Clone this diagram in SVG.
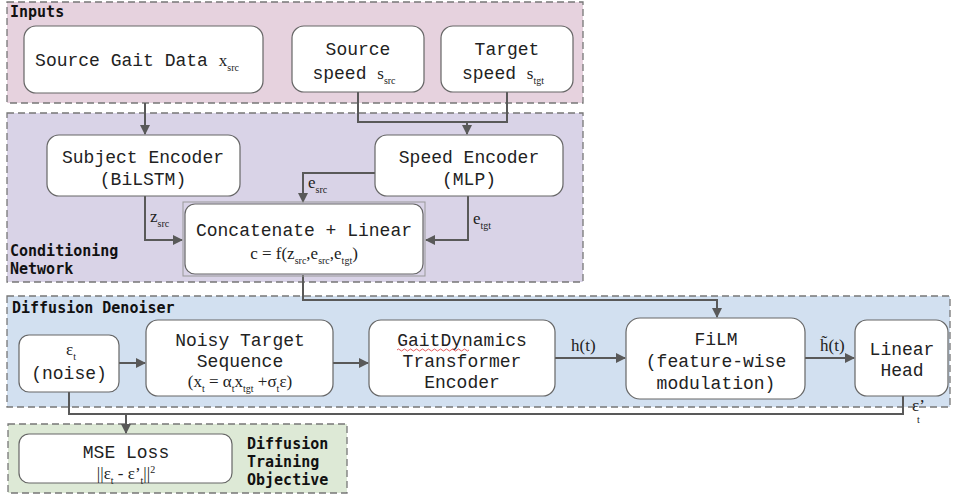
<svg xmlns="http://www.w3.org/2000/svg" width="953" height="497" viewBox="0 0 953 497">
<defs>
<marker id="ah" viewBox="0 0 10 10" refX="9" refY="5" markerWidth="5" markerHeight="5" orient="auto" markerUnits="strokeWidth"><path d="M0,0 L10,5 L0,10 z" fill="#595959"/></marker>
<style>
.panel{stroke:#777;stroke-width:1.3;stroke-dasharray:7 4}
.node{fill:#fff;stroke:#666;stroke-width:1.2}
.t{font-family:"Liberation Mono","DejaVu Sans Mono",monospace;font-size:18px;fill:#222;text-anchor:middle}
.lbl{font-family:"DejaVu Sans Mono","Liberation Mono",monospace;font-size:15px;font-weight:bold;fill:#111}
.m{font-family:"Liberation Serif","Times New Roman",serif;font-size:17px;fill:#222}
.s{font-size:10px}
.c{fill:none;stroke:#595959;stroke-width:2}
</style>
</defs>
<g id="panel-inputs"><rect class="panel" x="7" y="2" width="576" height="101" fill="#e6d2de"/><text class="lbl" x="10" y="17">Inputs</text></g>
<g id="panel-conditioning"><rect class="panel" x="7" y="113" width="576" height="169" fill="#d9d3e7"/><text class="lbl" x="10" y="256">Conditioning</text><text class="lbl" x="10" y="274">Network</text></g>
<g id="panel-denoiser"><rect class="panel" x="7" y="296" width="943" height="111" fill="#d2e0f0"/><text class="lbl" x="12" y="313">Diffusion Denoiser</text></g>
<g id="panel-objective"><rect class="panel" x="8" y="424" width="339" height="69" fill="#dde9d6"/><text class="lbl" x="247" y="449">Diffusion</text><text class="lbl" x="247" y="467">Training</text><text class="lbl" x="247" y="485">Objective</text></g>

<g id="connectors">
<path class="c" d="M145,103 V134" marker-end="url(#ah)"/>
<path class="c" d="M358,92 V122 H507 V92"/>
<path class="c" d="M467,122 V134" marker-end="url(#ah)"/>
<path class="c" d="M145,196 V240 H182" marker-end="url(#ah)"/>
<path class="c" d="M375,173 H303 V202" marker-end="url(#ah)"/>
<path class="c" d="M468,196 V240 H426" marker-end="url(#ah)"/>
<path class="c" d="M303,275 V300 H717 V317" marker-end="url(#ah)"/>
<path class="c" d="M119,363 H145" marker-end="url(#ah)"/>
<path class="c" d="M333,363 H368" marker-end="url(#ah)"/>
<path class="c" d="M555,358 H625" marker-end="url(#ah)"/>
<path class="c" d="M805,358 H854" marker-end="url(#ah)"/>
<path class="c" d="M69,392 V414 H903 V396"/>
<path class="c" d="M126,414 V433" marker-end="url(#ah)"/>
<text class="m" x="150" y="222">z<tspan class="s" dy="5">src</tspan></text>
<text class="m" x="308" y="188">e<tspan class="s" dy="5">src</tspan></text>
<text class="m" x="473" y="224">e<tspan class="s" dy="5">tgt</tspan></text>
<text class="m" x="571" y="351">h(t)</text>
<text class="m" x="820" y="351">h̃(t)</text>
<text class="m" x="912" y="411">ε’</text>
<text class="m s" x="917" y="423">t</text>
</g>

<g id="node-source-gait"><rect class="node" x="24" y="26" width="239" height="67" rx="12"/><text class="t" x="137" y="66">Source Gait Data <tspan class="m">x</tspan><tspan class="m s" dy="5">src</tspan></text></g>
<g id="node-source-speed"><rect class="node" x="292" y="26" width="132" height="66" rx="12"/><text class="t" x="358" y="55">Source</text><text class="t" x="354" y="79">speed <tspan class="m">s</tspan><tspan class="m s" dy="5">src</tspan></text></g>
<g id="node-target-speed"><rect class="node" x="441" y="26" width="132" height="66" rx="12"/><text class="t" x="507" y="55">Target</text><text class="t" x="503" y="79">speed <tspan class="m">s</tspan><tspan class="m s" dy="5">tgt</tspan></text></g>

<g id="node-subject-encoder"><rect class="node" x="47" y="135" width="193" height="61" rx="12"/><text class="t" x="143" y="163">Subject Encoder</text><text class="t" x="143" y="185">(BiLSTM)</text></g>
<g id="node-speed-encoder"><rect class="node" x="375" y="135" width="188" height="61" rx="12"/><text class="t" x="469" y="163">Speed Encoder</text><text class="t" x="469" y="185">(MLP)</text></g>
<g id="node-concat"><rect x="183" y="202" width="242" height="74" fill="none" stroke="#999" stroke-width="1"/><rect class="node" x="185" y="204" width="238" height="70" rx="10"/><text class="t" x="304" y="236">Concatenate + Linear</text><text class="m" x="304" y="259" text-anchor="middle">c = f(z<tspan class="s" dy="5">src</tspan><tspan dy="-5">,e</tspan><tspan class="s" dy="5">src</tspan><tspan dy="-5">,e</tspan><tspan class="s" dy="5">tgt</tspan><tspan dy="-5">)</tspan></text></g>

<g id="node-noise"><rect class="node" x="19" y="335" width="100" height="57" rx="10"/><text class="m" x="66" y="355">ε<tspan class="s" dy="5">t</tspan></text><text class="t" x="69" y="379">(noise)</text></g>
<g id="node-noisy-target"><rect class="node" x="146" y="320" width="187" height="76" rx="12"/><text class="t" x="240" y="346">Noisy Target</text><text class="t" x="240" y="367">Sequence</text><text class="m" x="240" y="387" text-anchor="middle">(x<tspan class="s" dy="5">t</tspan><tspan dy="-5"> = α</tspan><tspan class="s" dy="5">t</tspan><tspan dy="-5">x</tspan><tspan class="s" dy="5">tgt</tspan><tspan dy="-5"> +σ</tspan><tspan class="s" dy="5">t</tspan><tspan dy="-5">ε)</tspan></text></g>
<g id="node-gaitdynamics"><rect class="node" x="369" y="320" width="186" height="76" rx="12"/><text class="t" x="462" y="346">GaitDynamics</text><path d="M397,350 q1.5,-2 3,0 t3,0 t3,0 t3,0 t3,0 t3,0 t3,0 t3,0 t3,0 t3,0 t3,0 t3,0 t3,0 t3,0 t3,0 t3,0 t3,0 t3,0 t3,0 t3,0 t3,0 t3,0 t3,0 t3,0" fill="none" stroke="#d33" stroke-width="0.8"/><text class="t" x="462" y="367">Transformer</text><text class="t" x="462" y="388">Encoder</text></g>
<g id="node-film"><rect class="node" x="626" y="318" width="179" height="81" rx="14"/><text class="t" x="716" y="345">FiLM</text><text class="t" x="716" y="367">(feature-wise</text><text class="t" x="716" y="389">modulation)</text></g>
<g id="node-linear-head"><rect class="node" x="855" y="320" width="93" height="76" rx="12"/><text class="t" x="902" y="355">Linear</text><text class="t" x="902" y="376">Head</text></g>

<g id="node-mse"><rect class="node" x="19" y="434" width="213" height="49" rx="10"/><text class="t" x="126" y="458">MSE Loss</text><text class="m" x="126" y="479" text-anchor="middle">||ε<tspan class="s" dy="5">t</tspan><tspan dy="-5"> - ε’</tspan><tspan class="s" dy="5">t</tspan><tspan dy="-5">||</tspan><tspan class="s" dy="-6">2</tspan></text></g>
</svg>
